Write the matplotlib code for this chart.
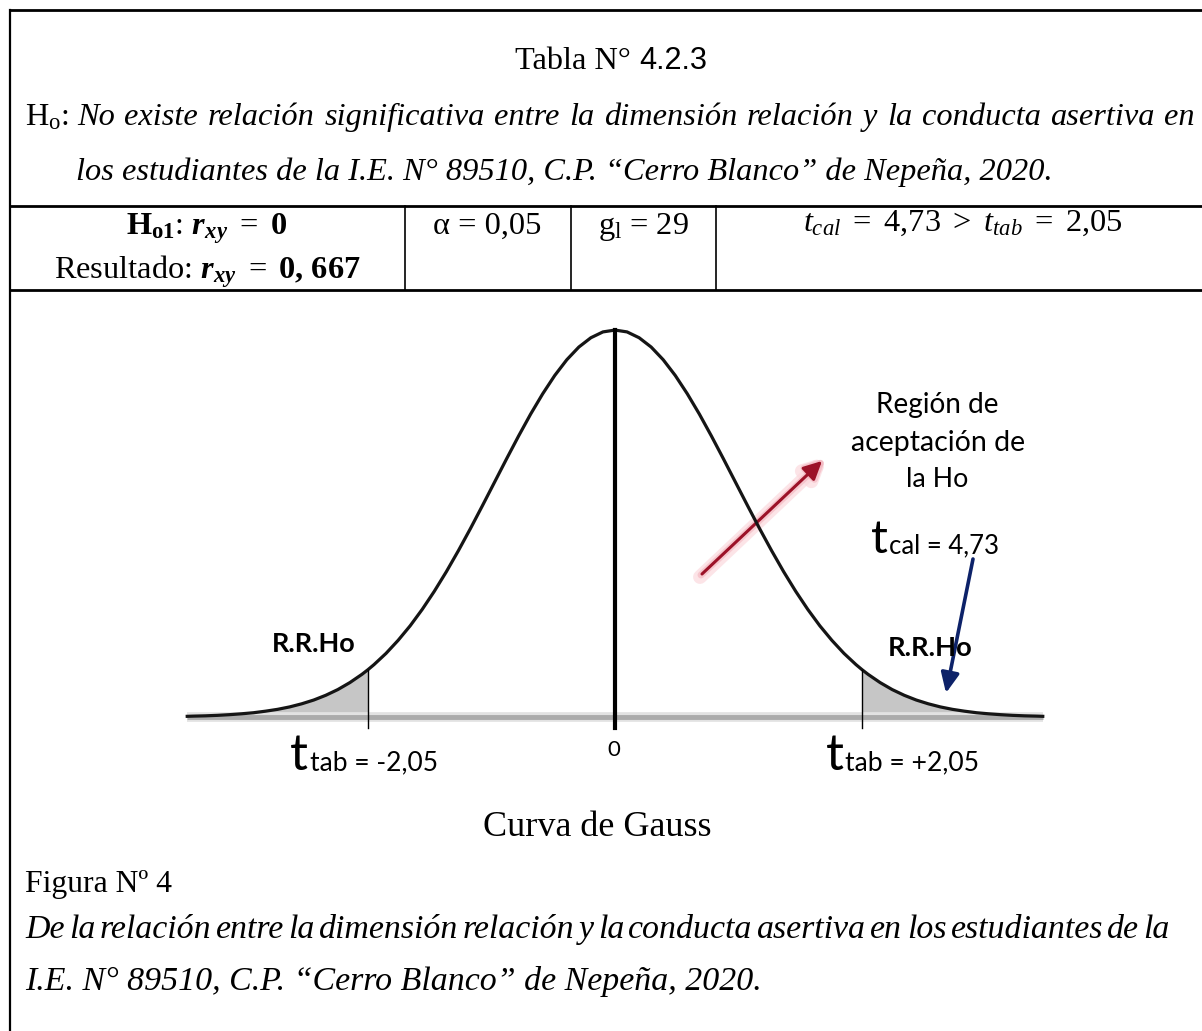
import matplotlib
matplotlib.use('Agg')
import matplotlib.pyplot as plt
import numpy as np

plt.rcParams['font.family'] = 'Liberation Serif'
plt.rcParams['mathtext.fontset'] = 'custom'
plt.rcParams['mathtext.rm'] = 'Liberation Serif'
plt.rcParams['mathtext.it'] = 'Liberation Serif:italic'
plt.rcParams['mathtext.bf'] = 'Liberation Serif:bold'
plt.rcParams['mathtext.bfit'] = 'Liberation Serif:italic:bold'

# Values
t_crit = 2.05      # t tabular
t_calc = 4.73      # t calculado
alpha = '0,05'
gl = 29
r_xy = '0,667'

# Gauss curve, right half, heights (density units); the curve is symmetric
t_right = [0.0, 0.1, 0.2, 0.3, 0.4, 0.5, 0.6, 0.7, 0.8, 0.9, 1.0, 1.1, 1.2, 1.3, 1.4, 1.5, 1.6,
           1.7, 1.8, 1.9, 2.0, 2.05, 2.1, 2.2, 2.3, 2.4, 2.5, 2.6, 2.7, 2.8, 2.9, 3.0, 3.1, 3.2,
           3.3, 3.4, 3.5, 3.55]
d_right = [0.3989, 0.3970, 0.3910, 0.3814, 0.3683, 0.3521, 0.3332, 0.3123, 0.2897, 0.2661,
           0.2420, 0.2179, 0.1942, 0.1714, 0.1497, 0.1295, 0.1109, 0.0940, 0.0790, 0.0656,
           0.0540, 0.0488, 0.0440, 0.0355, 0.0283, 0.0224, 0.0175, 0.0136, 0.0104, 0.0079,
           0.0060, 0.0044, 0.0033, 0.0024, 0.0017, 0.0012, 0.0009, 0.0007]

t_vals = np.array([-t for t in t_right[:0:-1]] + t_right)
dens = np.array(d_right[:0:-1] + d_right)

W, H = 1202, 1031
fig = plt.figure(figsize=(W / 100, H / 100), dpi=100)
ax = fig.add_axes([0, 0, 1, 1])
ax.set_xlim(0, W)
ax.set_ylim(H, 0)
ax.axis('off')
renderer = fig.canvas.get_renderer()


def width_px(t):
    return t.get_window_extent(renderer).width


def fit(s, x0, x1, y, **kw):
    # put text at x0 and scale the font so it ends at x1
    t = ax.text(x0, y, s, ha='left', va='baseline', fontsize=20, **kw)
    t.set_fontsize(20 * (x1 - x0) / width_px(t))
    return t


def justify(s, x0, x1, y, fs, **kw):
    words = s.split()
    ts = [ax.text(0, y, w, ha='left', va='baseline', fontsize=fs, **kw) for w in words]
    ws = [width_px(t) for t in ts]
    gap = (x1 - x0 - sum(ws)) / (len(words) - 1)
    x = x0
    for t, w in zip(ts, ws):
        t.set_x(x)
        x += w + gap


def group(parts, cx, y, gap=0):
    # several text pieces side by side, centred on cx
    ts = [ax.text(0, y, s, ha='left', va='baseline', **kw) for s, kw in parts]
    ws = [width_px(t) for t in ts]
    x = cx - (sum(ws) + gap * (len(ts) - 1)) / 2
    for t, w in zip(ts, ws):
        t.set_x(x)
        x += w + gap


# table frame
ax.plot([10, W], [10, 10], color='black', lw=2)
ax.plot([10, 10], [10, H], color='black', lw=1.6)
ax.plot([10, W], [206, 206], color='black', lw=2)
ax.plot([10, W], [290, 290], color='black', lw=2)
for xv in [405, 571, 716]:
    ax.plot([xv, xv], [206, 290], color='black', lw=1.2)

# header
line3 = fit('los estudiantes de la I.E. N° 89510, C.P. “Cerro Blanco” de Nepeña, 2020.',
            76, 1050, 180, style='italic')
fs = line3.get_fontsize()
group([('Tabla N°', dict(fontsize=fs)),
       ('4.2.3', dict(family='Liberation Sans', fontsize=fs * 0.95))], 611, 69, gap=8)
ax.text(25, 125, r'H$_\mathrm{o}$:', ha='left', va='baseline', fontsize=fs)
justify('No existe relación significativa entre la dimensión relación y la conducta asertiva en',
        77, 1195, 125, fs, style='italic')

# row of results
num = lambda v: f'{v:.2f}'.replace('.', '{,}')
ax.text(207, 234, r'$\mathbf{H_{o1}}$: $\mathbfit{r_{xy}}\ =\ \mathbf{0}$',
        ha='center', va='baseline', fontsize=fs)
ax.text(207, 278, r'Resultado: $\mathbfit{r_{xy}}\ =\ \mathbf{' + r_xy.replace(',', '{,}\\ ') + '}$',
        ha='center', va='baseline', fontsize=fs)
ax.text(487, 234, 'α = ' + alpha, ha='center', va='baseline', fontsize=fs)
ax.text(643, 234, r'g$_\mathrm{l}$ = ' + str(gl), ha='center', va='baseline', fontsize=fs)
ax.text(963, 231, r'$t_{cal}\ =\ ' + num(t_calc) + r'\ >\ t_{tab}\ =\ ' + num(t_crit) + '$',
        ha='center', va='baseline', fontsize=fs)

# gauss curve axes: 1 t unit = 120.5 px, center at x=615, baseline at y=717
px_t, px_d = 120.5, 970.0
gl_, gr_, gt_, gb_ = 150, 1080, 300, 760
gax = fig.add_axes([gl_ / W, (H - gb_) / H, (gr_ - gl_) / W, (gb_ - gt_) / H])
gax.set_xlim((gl_ - 615) / px_t, (gr_ - 615) / px_t)
gax.set_ylim(-(gb_ - 717) / px_d, (717 - gt_) / px_d)
gax.axis('off')
gax.patch.set_alpha(0)

left = t_vals <= -t_crit
right = t_vals >= t_crit
gax.fill_between(t_vals[left], 0, dens[left], color='#c6c6c6', lw=0)
gax.fill_between(t_vals[right], 0, dens[right], color='#c6c6c6', lw=0)
gax.plot([t_vals[0], t_vals[-1]], [0, 0], color='#e2e2e2', lw=7, solid_capstyle='butt')
gax.plot([t_vals[0], t_vals[-1]], [0, 0], color='#ababab', lw=3.5, solid_capstyle='butt')
gax.plot(t_vals, dens, color='#151515', lw=2.3)
peak = dens.max()
gax.plot([0, 0], [-0.011, peak], color='black', lw=3)
ic = list(t_vals).index(t_crit)
gax.plot([-t_crit, -t_crit], [-0.011, dens[ic]], color='black', lw=1)
gax.plot([t_crit, t_crit], [-0.011, dens[ic]], color='black', lw=1)

# arrows
ax.annotate('', xy=(828, 456), xytext=(700, 577),
            arrowprops=dict(arrowstyle='-|>,head_length=1.0,head_width=0.5', lw=10,
                            color='#fbd9de', alpha=0.7, shrinkA=0, shrinkB=0))
ax.annotate('', xy=(826, 458), xytext=(701, 575),
            arrowprops=dict(arrowstyle='-|>,head_length=1.1,head_width=0.55', lw=5,
                            color='#f2b3bd', alpha=0.6, shrinkA=0, shrinkB=0))
ax.annotate('', xy=(822, 461), xytext=(702, 574),
            arrowprops=dict(arrowstyle='-|>,head_length=1.1,head_width=0.55', lw=2.2,
                            color='#9c1228', shrinkA=0, shrinkB=0))
ax.annotate('', xy=(946, 693), xytext=(973, 559),
            arrowprops=dict(arrowstyle='-|>,head_length=1.2,head_width=0.55', lw=2.6,
                            color='#0d2269', shrinkA=0, shrinkB=0))

# labels of the curve
sans = 'Lato'
fit('Región de', 876, 999, 413, family=sans)
fit('aceptación de', 851, 1025, 451, family=sans)
fit('la Ho', 906, 968, 487, family=sans)
ax.text(871, 553, 't', ha='left', va='baseline', fontsize=34, family=sans)
fit('cal = ' + f'{t_calc:.2f}'.replace('.', ','), 889, 999, 553, family=sans)
fit('R.R.Ho', 272, 356, 652, family=sans, weight='bold')
fit('R.R.Ho', 888, 973, 656, family=sans, weight='bold')
ax.text(290, 770, 't', ha='left', va='baseline', fontsize=36, family=sans)
fit('tab = -' + f'{t_crit:.2f}'.replace('.', ','), 310, 438, 770, family=sans)
ax.text(826, 770, 't', ha='left', va='baseline', fontsize=36, family=sans)
fit('tab = +' + f'{t_crit:.2f}'.replace('.', ','), 845, 979, 770, family=sans)
ax.text(614, 756, '0', ha='center', va='baseline', fontsize=16, family=sans)

# footer
fit('Curva de Gauss', 483, 712, 836)
fit('Figura Nº 4', 25, 172, 892)
line_b = fit('I.E. N° 89510, C.P. “Cerro Blanco” de Nepeña, 2020.', 25, 762, 990, style='italic')
justify('De la relación entre la dimensión relación y la conducta asertiva en los estudiantes de la',
        25, 1170, 938, line_b.get_fontsize(), style='italic')

fig.savefig('out.png', dpi=100)
